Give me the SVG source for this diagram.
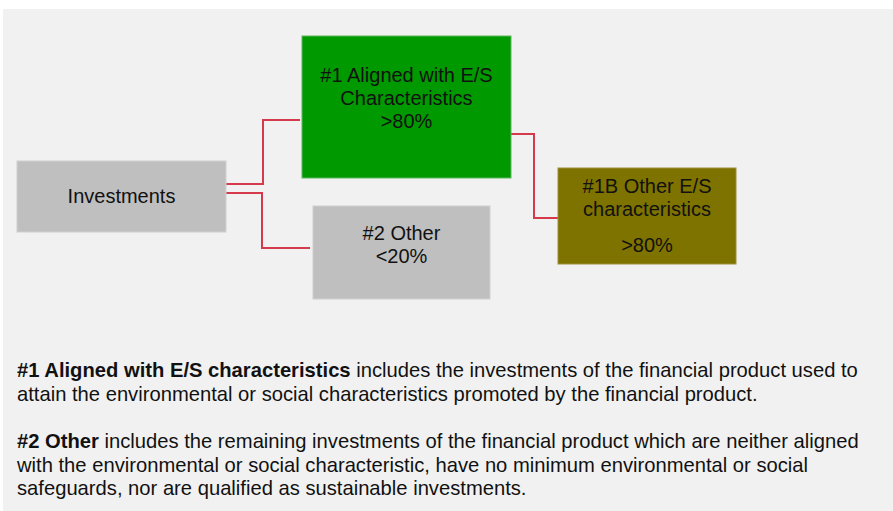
<svg xmlns="http://www.w3.org/2000/svg" width="893" height="511" viewBox="0 0 893 511">
<style>
text{font-family:"Liberation Sans",Arial,sans-serif;fill:#111;}
.n{font-size:20px;text-anchor:middle;}
.b{font-size:20.2px;}
.bold{font-weight:bold;}
.conn{fill:none;stroke:#d6394c;stroke-width:2;}
</style>
<rect x="0" y="0" width="893" height="511" fill="#ffffff"/>
<rect x="3" y="9" width="890" height="502" fill="#f1f1f1"/>
<g id="connectors">
<polyline class="conn" points="223,184 263,184 263,120 300,120"/>
<polyline class="conn" points="224,193 262,193 262,248 310,248"/>
<polyline class="conn" points="511,134 534,134 534,218 558,218"/>
</g>
<g id="investments">
<rect x="17" y="161" width="209" height="71" fill="#bfbfbf" stroke="#d0d0d0" stroke-width="1"/>
<text class="n" x="121.5" y="203">Investments</text>
</g>
<g id="aligned">
<rect x="302" y="36" width="209" height="142" fill="#009900" stroke="#5cb85c" stroke-width="1"/>
<text class="n" x="406.5" y="82">#1 Aligned with E/S</text>
<text class="n" x="406.5" y="105">Characteristics</text>
<text class="n" x="406.5" y="128">&gt;80%</text>
</g>
<g id="other">
<rect x="313" y="206" width="177" height="93" fill="#bfbfbf" stroke="#d0d0d0" stroke-width="1"/>
<text class="n" x="401.5" y="240">#2 Other</text>
<text class="n" x="401.5" y="263">&lt;20%</text>
</g>
<g id="other-es">
<rect x="558" y="168" width="178" height="96" fill="#7f7300" stroke="#99903a" stroke-width="1"/>
<text class="n" x="647" y="193">#1B Other E/S</text>
<text class="n" x="647" y="216">characteristics</text>
<text class="n" x="647" y="252">&gt;80%</text>
</g>
<g id="legend">
<text class="b" x="17" y="377"><tspan class="bold">#1 Aligned with E/S characteristics</tspan> includes the investments of the financial product used to</text>
<text class="b" x="17" y="401">attain the environmental or social characteristics promoted by the financial product.</text>
<text class="b" x="17" y="448"><tspan class="bold">#2 Other</tspan> includes the remaining investments of the financial product which are neither aligned</text>
<text class="b" x="17" y="472">with the environmental or social characteristic, have no minimum environmental or social</text>
<text class="b" x="17" y="495">safeguards, nor are qualified as sustainable investments.</text>
</g>
</svg>
